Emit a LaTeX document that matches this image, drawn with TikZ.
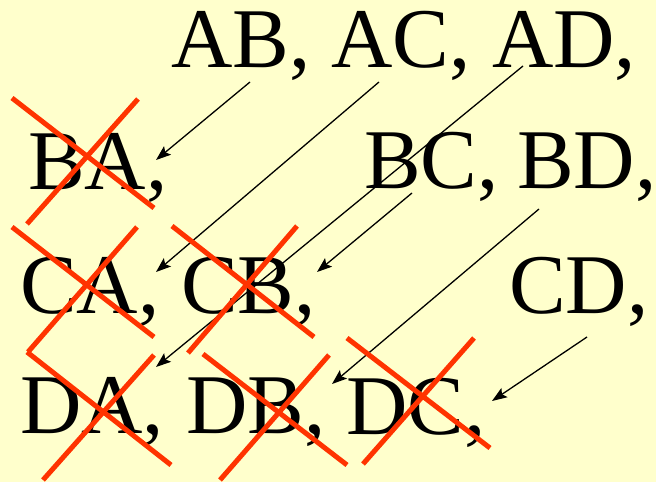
\documentclass[tikz,border=0pt]{standalone}
\usepackage{fontspec}
\setmainfont{Liberation Serif}
\usetikzlibrary{arrows.meta}
\definecolor{bg}{HTML}{FFFFCC}
\definecolor{crossred}{HTML}{FF3300}
\tikzset{
  pair/.style={anchor=base west, inner sep=0pt, font=\fontsize{85}{90}\selectfont},
  arr/.style={line width=1.3pt, -{Stealth[length=15pt,width=11pt,inset=3pt]}},
  xline/.style={crossred, line width=5pt}
}
\begin{document}
\begin{tikzpicture}[x=1pt,y=-1pt]
\fill[bg] (0,0) rectangle (656,482);
\useasboundingbox (0,0) rectangle (656,482);
% texts
\node[pair] (AB) at (171,67) {AB,};
\node[pair] (AC) at (331,67) {AC,};
\node[pair] (AD) at (492,67) {AD,};
\node[pair] (BA) at (28,189) {BA,};
\node[pair] (BC) at (364,188) {BC,};
\node[pair] (BD) at (517,188) {BD,};
\node[pair] (CA) at (20,313) {CA,};
\node[pair] (CB) at (181,313) {CB,};
\node[pair] (CD) at (509,313) {CD,};
\node[pair] (DA) at (20,433) {DA,};
\node[pair] (DB) at (186,433) {DB,};
\node[pair] (DC) at (346,434) {DC,};
% arrow ends
\coordinate (sAB) at (250,82);
\coordinate (tBA) at (156,160);
\coordinate (sAC) at (379,82);
\coordinate (tCA) at (156,272);
\coordinate (sAD) at (523,66);
\coordinate (tDA) at (156,367);
\coordinate (sBC) at (412,193);
\coordinate (tCB) at (317,272);
\coordinate (sBD) at (539,209);
\coordinate (tDB) at (332,384);
\coordinate (sCD) at (587,337);
\coordinate (tDC) at (492,401);
\draw[arr] (sAB) -- (tBA);
\draw[arr] (sAC) -- (tCA);
\draw[arr] (sAD) -- (tDA);
\draw[arr] (sBC) -- (tCB);
\draw[arr] (sBD) -- (tDB);
\draw[arr] (sCD) -- (tDC);
% crosses
\draw[xline] (12,98) -- (154,208);
\draw[xline] (138,99) -- (27,224);
\draw[xline] (12,227) -- (154,337);
\draw[xline] (137,227) -- (28,352);
\draw[xline] (27,352) -- (171,465);
\draw[xline] (154,355) -- (43,480);
\draw[xline] (172,226) -- (314,337);
\draw[xline] (297,226) -- (188,353);
\draw[xline] (203,354) -- (347,465);
\draw[xline] (329,355) -- (220,480);
\draw[xline] (347,338) -- (490,448);
\draw[xline] (474,338) -- (363,464);
\end{tikzpicture}
\end{document}
